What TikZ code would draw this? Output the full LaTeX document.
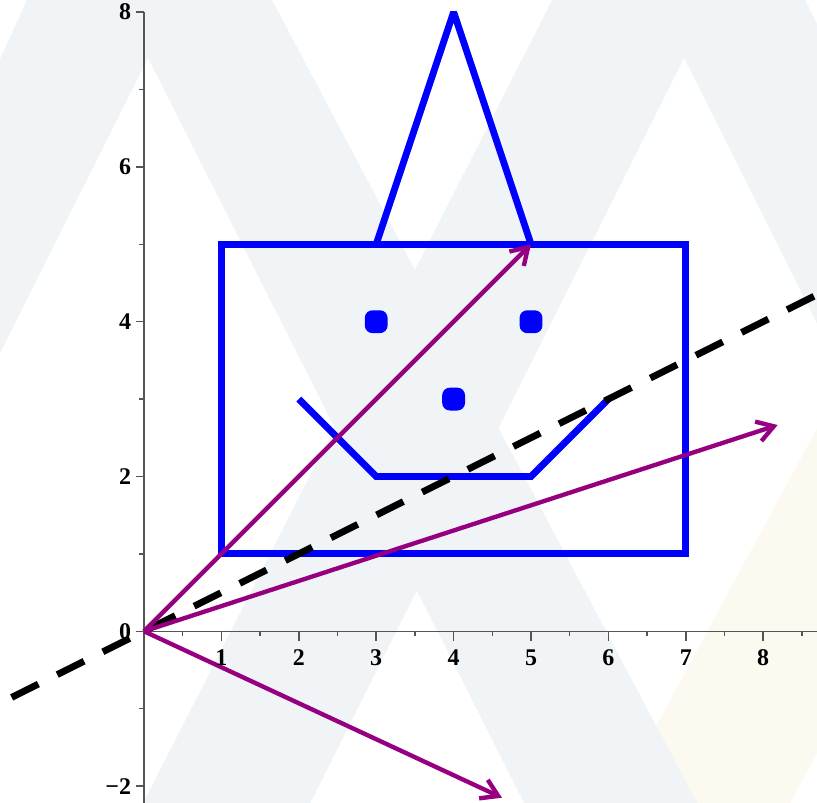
\documentclass[tikz,border=0pt]{standalone}
\usepackage{fontspec}
\setmainfont{Liberation Serif}
\usetikzlibrary{arrows.meta}
\definecolor{faceblue}{RGB}{0,0,255}
\definecolor{vecpurple}{RGB}{150,0,128}
\definecolor{wmgray}{RGB}{240,244,247}
\definecolor{wmcream}{RGB}{252,249,240}
\definecolor{axisgray}{RGB}{85,85,85}
\begin{document}
\begin{tikzpicture}[
  face/.style={draw=faceblue, line width=2.5pt, line join=miter},
  facedot/.style={rectangle, rounded corners=2.8pt, fill=faceblue, minimum size=0.295cm, inner sep=0pt},
  vec/.style={draw=vecpurple, line width=1.6pt, -{Straight Barb[length=6pt,width=7.5pt]}},
  eigline/.style={draw=black, line width=2.5pt, dash pattern=on 11pt off 7.75pt},
  axisline/.style={draw=axisgray, line width=0.55pt},
  ticklabel/.style={inner sep=0pt, font=\fontsize{8.8}{10}\selectfont\bfseries},
]
\useasboundingbox (-1.8605,-2.2183) rectangle (8.6951,8.1563);
\clip (-1.8605,-2.2183) rectangle (8.6951,8.1563);

% faint watermark in the background
\begin{scope}[shift={(-1.8605,8.1563)}, x=0.012920cm, y=-0.012920cm]
  \fill[wmcream] (886,300) -- (605,820) -- (780.8,820) -- (845.6,700) -- cycle;
  \fill[wmgray] (36,-20) -- (261.4,-20) -- (706,820) -- (532.6,820) -- (148,58)
        -- (-234,820) -- (-345.7,820) -- cycle;
  \fill[wmgray] (562.2,-20) -- (795,-20) -- (1215,820) -- (1065,820) -- (684,58)
        -- (301.5,820) -- (134.4,820) -- cycle;
\end{scope}

% axes
\draw[axisline] (0,0) -- (8.8,0);
\draw[axisline] (0,8) -- (0,-2.3);
\foreach \i in {1,...,8} \draw[axisline] (\i,0) -- (\i,-0.12);
\foreach \i in {0.5,1.5,...,8.5} \draw[axisline] (\i,0) -- (\i,-0.065);
\foreach \j in {-2,0,2,4,6,8} \draw[axisline] (0,\j) -- (-0.1,\j);
\foreach \j in {-1,1,3,5,7} \draw[axisline] (0,\j) -- (-0.06,\j);

% the face
\draw[face] (1,1) rectangle (7,5);
\draw[face, line join=bevel] (3,5) -- (4,8) -- (5,5);
\draw[face] (2,3) -- (3,2) -- (5,2) -- (6,3);
\node[facedot] (eyeL) at (3,4) {};
\node[facedot] (eyeR) at (5,4) {};
\node[facedot] (nose) at (4,3) {};

% dashed line y = x/2
\coordinate (Lstart) at (-1.71,-0.855);
\coordinate (Lend) at (9,4.5);
\draw[eigline] (Lstart) -- (Lend);

% vectors
\coordinate (O) at (0,0);
\coordinate (A) at (5,5);
\coordinate (B) at (8.187,2.665);
\coordinate (C) at (4.625,-2.15);
\draw[vec] (O) -- (A);
\draw[vec] (O) -- (B);
\draw[vec] (O) -- (C);

% tick labels
\foreach \i in {1,...,8} \node[ticklabel] (xl\i) at (\i,-0.34) {\i};
\foreach \j/\t in {-2/−2,0/0,2/2,4/4,6/6,8/8}
  \node[ticklabel, anchor=east] (yl\j) at (-0.16,\j) {\t};
\end{tikzpicture}
\end{document}
